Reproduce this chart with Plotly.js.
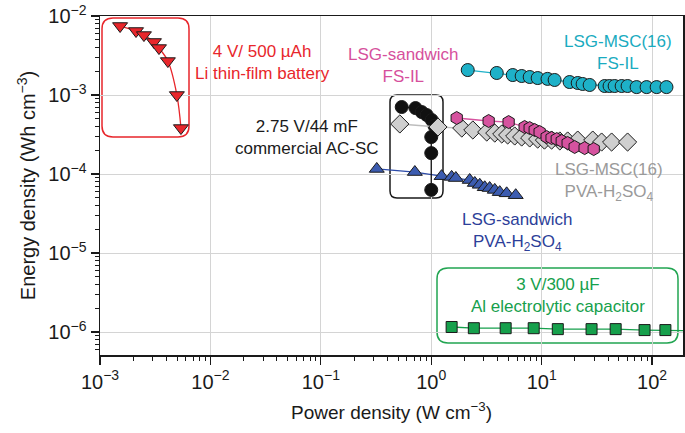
<!DOCTYPE html>
<html>
<head>
<meta charset="utf-8">
<script src="https://cdn.plot.ly/plotly-3.0.1.min.js"></script>
<style>
  html, body { margin: 0; padding: 0; background: #fff; }
  #chart { width: 685px; height: 433px; }
</style>
</head>
<body>
<div id="chart"></div>
<script>
// 4 V / 500 uAh Li thin-film battery
var liPower = [1.52e-3, 2.12e-3, 2.50e-3, 3.08e-3, 3.42e-3, 4.12e-3, 4.97e-3, 5.41e-3];
var liEnergy = [7.47e-3, 6.46e-3, 5.74e-3, 4.69e-3, 3.93e-3, 2.69e-3, 1.0e-3, 3.82e-4];

// LSG-MSC(16) FS-IL
var msIlPower = [2.14, 3.92, 5.47, 6.59, 7.79, 9.20, 11.3, 13.1, 17.9, 21.2, 23.5, 27.2, 37.2, 41.2, 45.8, 53.0, 60.0, 72.4, 89.2, 110, 135];
var msIlEnergy = [2.07e-3, 1.90e-3, 1.79e-3, 1.74e-3, 1.69e-3, 1.64e-3, 1.60e-3, 1.55e-3, 1.46e-3, 1.42e-3, 1.38e-3, 1.34e-3, 1.30e-3, 1.30e-3, 1.30e-3, 1.30e-3, 1.30e-3, 1.26e-3, 1.26e-3, 1.26e-3, 1.26e-3];

// 2.75 V / 44 mF commercial AC-SC
var acPower = [0.54, 0.72, 0.82, 0.91, 1.01, 1.07, 1.0, 1.0, 1.0];
var acEnergy = [7.05e-4, 6.84e-4, 6.09e-4, 5.58e-4, 4.83e-4, 4.06e-4, 2.94e-4, 1.84e-4, 6.3e-5];

// LSG-MSC(16) PVA-H2SO4
var msPvaPower = [0.519, 1.15, 1.89, 2.38, 3.18, 3.76, 4.35, 4.92, 5.70, 6.59, 7.79, 9.20, 10.6, 12.3, 14.6, 17.2, 21.2, 29.0, 34.9, 43.0, 60.0];
var msPvaEnergy = [4.30e-4, 3.94e-4, 3.82e-4, 3.61e-4, 3.40e-4, 3.30e-4, 3.21e-4, 3.12e-4, 3.03e-4, 2.94e-4, 2.86e-4, 2.77e-4, 2.69e-4, 2.69e-4, 2.62e-4, 2.62e-4, 2.69e-4, 2.69e-4, 2.54e-4, 2.54e-4, 2.54e-4];

// LSG-sandwich FS-IL
var swIlPower = [1.70, 3.31, 5.02, 7.01, 7.79, 8.65, 9.59, 11.1, 12.3, 13.7, 15.2, 17.2, 19.9, 24.5, 29.6];
var swIlEnergy = [5.12e-4, 4.69e-4, 4.55e-4, 3.94e-4, 3.82e-4, 3.61e-4, 3.40e-4, 2.94e-4, 2.86e-4, 2.77e-4, 2.62e-4, 2.47e-4, 2.20e-4, 2.13e-4, 2.07e-4];

// LSG-sandwich PVA-H2SO4
var swPvaPower = [0.321, 0.71, 1.24, 1.53, 1.67, 2.23, 2.48, 2.75, 3.05, 3.38, 3.76, 4.17, 4.82, 5.82];
var swPvaEnergy = [1.16e-4, 1.06e-4, 9.4e-5, 9.2e-5, 8.9e-5, 8.4e-5, 7.7e-5, 7.3e-5, 6.8e-5, 6.65e-5, 6.3e-5, 5.9e-5, 5.7e-5, 5.4e-5];

// 3 V / 300 uF Al electrolytic capacitor
var alPower = [1.53, 2.43, 4.72, 8.47, 14.0, 28.3, 46.8, 85.5, 132, 250];
var alEnergy = [1.16e-6, 1.12e-6, 1.12e-6, 1.12e-6, 1.09e-6, 1.09e-6, 1.09e-6, 1.06e-6, 1.06e-6, 1.04e-6];

// tick labels
var xTickVals = [1e-3, 1e-2, 1e-1, 1, 10, 100];
var xTickText = ['10<sup>−3</sup>', '10<sup>−2</sup>', '10<sup>−1</sup>', '10<sup>0</sup>', '10<sup>1</sup>', '10<sup>2</sup>'];
var yTickVals = [1e-6, 1e-5, 1e-4, 1e-3, 1e-2];
var yTickText = ['10<sup>−6</sup>', '10<sup>−5</sup>', '10<sup>−4</sup>', '10<sup>−3</sup>', '10<sup>−2</sup>'];

// plot area in pixels
var L = 100, R = 683, T = 16, B = 355;
function px(x) { return (x - L) / (R - L); }
function py(y) { return (B - y) / (B - T); }

// rounded box as a paper path
function roundBox(x0, y0, x1, y1, r, color) {
  var rx = r / (R - L), ry = r / (B - T);
  var a = px(x0), b = px(x1), top = py(y0), bot = py(y1);
  var p = 'M' + (a + rx) + ',' + top +
    ' L' + (b - rx) + ',' + top + ' Q' + b + ',' + top + ' ' + b + ',' + (top - ry) +
    ' L' + b + ',' + (bot + ry) + ' Q' + b + ',' + bot + ' ' + (b - rx) + ',' + bot +
    ' L' + (a + rx) + ',' + bot + ' Q' + a + ',' + bot + ' ' + a + ',' + (bot + ry) +
    ' L' + a + ',' + (top - ry) + ' Q' + a + ',' + top + ' ' + (a + rx) + ',' + top + ' Z';
  return { type: 'path', xref: 'paper', yref: 'paper', path: p, line: { color: color, width: 1.5 }, layer: 'below' };
}

function series(x, y, symbol, fill, lineColor, size, shape) {
  return {
    x: x, y: y, type: 'scatter', mode: 'lines+markers',
    line: { color: lineColor, width: 1.3, shape: shape || 'linear' },
    marker: { symbol: symbol, size: size, color: fill, line: { color: '#1a1a1a', width: 1 } },
    hoverinfo: 'x+y'
  };
}

var traces = [
  series(alPower, alEnergy, 'square', '#16a04c', '#16a04c', 11),
  series(liPower, liEnergy, 'triangle-down', '#e8262b', '#e8262b', 13, 'spline'),
  series(swPvaPower, swPvaEnergy, 'triangle-up', '#3c5cb0', '#2b4aa8', 13),
  series(acPower, acEnergy, 'circle', '#111', '#111', 13),
  series(msPvaPower, msPvaEnergy, 'diamond', '#cfcfcf', '#bdbdbd', 14),
  series(swIlPower, swIlEnergy, 'hexagon', '#d6539f', '#d6539f', 13),
  series(msIlPower, msIlEnergy, 'circle', '#1eb1c8', '#1eb1c8', 13)
];

var font = 'Liberation Sans, Arial, Helvetica, sans-serif';

function note(x, y, text, color) {
  return {
    xref: 'paper', yref: 'paper', x: px(x), y: py(y), text: text, showarrow: false,
    xanchor: 'center', yanchor: 'middle', align: 'center',
    font: { family: font, size: 17, color: color }
  };
}

var layout = {
  width: 685, height: 433,
  margin: { l: L, r: 685 - R, t: T, b: 433 - B },
  paper_bgcolor: '#fff', plot_bgcolor: '#fff',
  showlegend: false,
  font: { family: font, size: 18, color: '#1a1a1a' },
  xaxis: {
    type: 'log', range: [-3, 2.28], tickvals: xTickVals, ticktext: xTickText,
    showline: true, linecolor: '#1a1a1a', linewidth: 1.5, mirror: true,
    ticks: 'outside', ticklen: 8, tickwidth: 1.3, tickcolor: '#1a1a1a',
    showgrid: true, gridcolor: '#d4d4d4', gridwidth: 1, zeroline: false,
    minor: { ticks: 'outside', ticklen: 4, tickwidth: 1, tickcolor: '#1a1a1a', dtick: 'D1', showgrid: false },
    tickfont: { family: font, size: 20 },
    title: { text: 'Power density (W cm<sup>−3</sup>)', font: { family: font, size: 19 }, standoff: 14 }
  },
  yaxis: {
    type: 'log', range: [-6.29, -2], tickvals: yTickVals, ticktext: yTickText,
    showline: true, linecolor: '#1a1a1a', linewidth: 1.5, mirror: true,
    ticks: 'outside', ticklen: 8, tickwidth: 1.3, tickcolor: '#1a1a1a',
    showgrid: true, gridcolor: '#d4d4d4', gridwidth: 1, zeroline: false,
    minor: { ticks: 'outside', ticklen: 4, tickwidth: 1, tickcolor: '#1a1a1a', dtick: 'D1', showgrid: false },
    tickfont: { family: font, size: 20 },
    title: { text: 'Energy density (Wh cm<sup>−3</sup>)', font: { family: font, size: 20 }, standoff: 7 }
  },
  shapes: [
    roundBox(102, 18, 189, 137, 11, '#e8262b'),
    roundBox(390, 95, 443, 198, 7, '#1a1a1a'),
    roundBox(437, 268, 678, 343, 11, '#22a552')
  ],
  annotations: [
    note(262, 63, '4 V/ 500 µAh<br>Li thin-film battery', '#e8262b'),
    note(403, 65, 'LSG-sandwich<br>FS-IL', '#d6509c'),
    note(618, 52, 'LSG-MSC(16)<br>FS-IL', '#1aabc0'),
    note(307, 137, '2.75 V/44 mF<br>commercial AC-SC', '#1a1a1a'),
    note(609, 182, 'LSG-MSC(16)<br>PVA-H<sub>2</sub>SO<sub>4</sub>', '#9a9a9a'),
    note(517, 232, 'LSG-sandwich<br>PVA-H<sub>2</sub>SO<sub>4</sub>', '#2d3f99'),
    note(558, 295, '3 V/300 µF<br>Al electrolytic capacitor', '#16a04c')
  ]
};

Plotly.newPlot('chart', traces, layout, { displayModeBar: false, staticPlot: true });
</script>
</body>
</html>
